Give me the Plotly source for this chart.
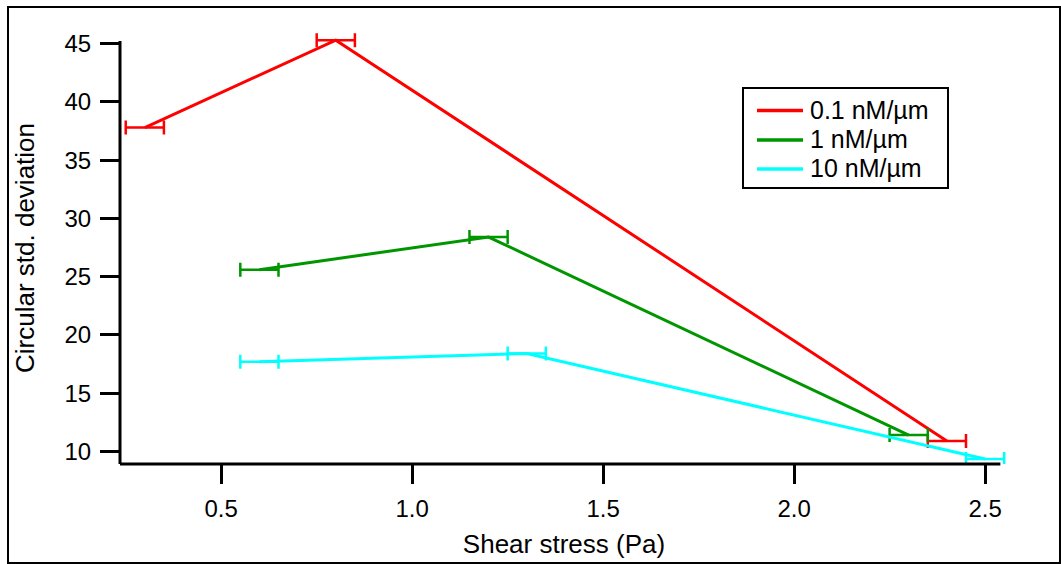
import plotly.graph_objects as go

# Data
series_names = ["0.1 nM/µm", "1 nM/µm", "10 nM/µm"]
x_red = [0.30, 0.80, 2.40]
y_red = [37.8, 45.3, 10.9]
x_green = [0.60, 1.20, 2.30]
y_green = [25.6, 28.4, 11.4]
x_cyan = [0.60, 1.30, 2.50]
y_cyan = [17.7, 18.4, 9.35]
xerr_red = [0.05, 0.05, 0.05]
xerr_green = [0.05, 0.05, 0.05]
xerr_cyan = [0.05, 0.05, 0.05]
x_ticks = [0.5, 1.0, 1.5, 2.0, 2.5]
y_ticks = [10, 15, 20, 25, 30, 35, 40, 45]

colors = ["#FF0000", "#009600", "#00FFFF"]
FONT = "Liberation Sans, Arial, sans-serif"

# axis extents (where the axis lines end) and the slightly larger view range
X_AXIS = (0.235, 2.54)
Y_AXIS = (8.92, 45.22)
X_VIEW = (0.235, 2.56)
Y_VIEW = (8.92, 46.0)

fig = go.Figure()
for name, xs, ys, es, c in [
    (series_names[0], x_red, y_red, xerr_red, colors[0]),
    (series_names[1], x_green, y_green, xerr_green, colors[1]),
    (series_names[2], x_cyan, y_cyan, xerr_cyan, colors[2]),
]:
    fig.add_trace(go.Scatter(
        x=xs, y=ys, name=name, mode="lines",
        line=dict(color=c, width=3),
        cliponaxis=False, showlegend=False,
        error_x=dict(type="data", array=es, symmetric=True, color=c,
                     thickness=2.5, width=7),
    ))

L, R, T, B = 120, 53, 32, 100
W, H = 1061, 564
pw, ph = W - L - R, H - T - B

def px2paper_x(px):
    return (px - L) / pw

def px2paper_y(py):
    return (H - B - py) / ph

x_axis_end = (X_AXIS[1] - X_VIEW[0]) / (X_VIEW[1] - X_VIEW[0])
y_axis_end = (Y_AXIS[1] - Y_VIEW[0]) / (Y_VIEW[1] - Y_VIEW[0])

shapes = [
    # outer frame
    dict(type="rect", xref="paper", yref="paper",
         x0=px2paper_x(8), x1=px2paper_x(1060),
         y0=px2paper_y(563), y1=px2paper_y(7),
         line=dict(color="black", width=2), layer="below"),
    # axis lines
    dict(type="line", xref="paper", yref="paper", x0=0, x1=0,
         y0=0, y1=y_axis_end, line=dict(color="black", width=3)),
    dict(type="line", xref="paper", yref="paper", x0=0, x1=x_axis_end,
         y0=0, y1=0, line=dict(color="black", width=3)),
    # legend box
    dict(type="rect", xref="paper", yref="paper",
         x0=px2paper_x(743), x1=px2paper_x(948),
         y0=px2paper_y(188), y1=px2paper_y(88),
         line=dict(color="black", width=2), fillcolor="white"),
]
annotations = []
row_y = [110.5, 140, 169]
for name, c, ry in zip(series_names, colors, row_y):
    shapes.append(dict(type="line", xref="paper", yref="paper",
                       x0=px2paper_x(757), x1=px2paper_x(803),
                       y0=px2paper_y(ry), y1=px2paper_y(ry),
                       line=dict(color=c, width=3.5)))
    annotations.append(dict(xref="paper", yref="paper",
                            x=px2paper_x(808), y=px2paper_y(ry - 1),
                            xanchor="left", yanchor="middle", showarrow=False,
                            text=name, font=dict(family=FONT, size=25, color="black")))

fig.update_layout(
    width=W, height=H,
    margin=dict(l=L, r=R, t=T, b=B, autoexpand=False),
    paper_bgcolor="white", plot_bgcolor="white",
    font=dict(family=FONT, size=24, color="black"),
    showlegend=False,
    xaxis=dict(
        range=list(X_VIEW), tickvals=x_ticks, tickformat=".1f",
        showgrid=False, zeroline=False, showline=False,
        ticks="outside", ticklen=19, tickwidth=3, tickcolor="black",
        tickfont=dict(family=FONT, size=24), ticklabelstandoff=4,
        title=dict(text="Shear stress (Pa)", font=dict(family=FONT, size=26), standoff=14),
        automargin=False,
    ),
    yaxis=dict(
        range=list(Y_VIEW), tickvals=y_ticks,
        showgrid=False, zeroline=False, showline=False,
        ticks="outside", ticklen=19, tickwidth=3, tickcolor="black",
        tickfont=dict(family=FONT, size=24), ticklabelstandoff=4,
        title=dict(text="Circular std. deviation", font=dict(family=FONT, size=26), standoff=22),
        automargin=False,
    ),
    shapes=shapes,
    annotations=annotations,
)

fig.write_html("out.html")
